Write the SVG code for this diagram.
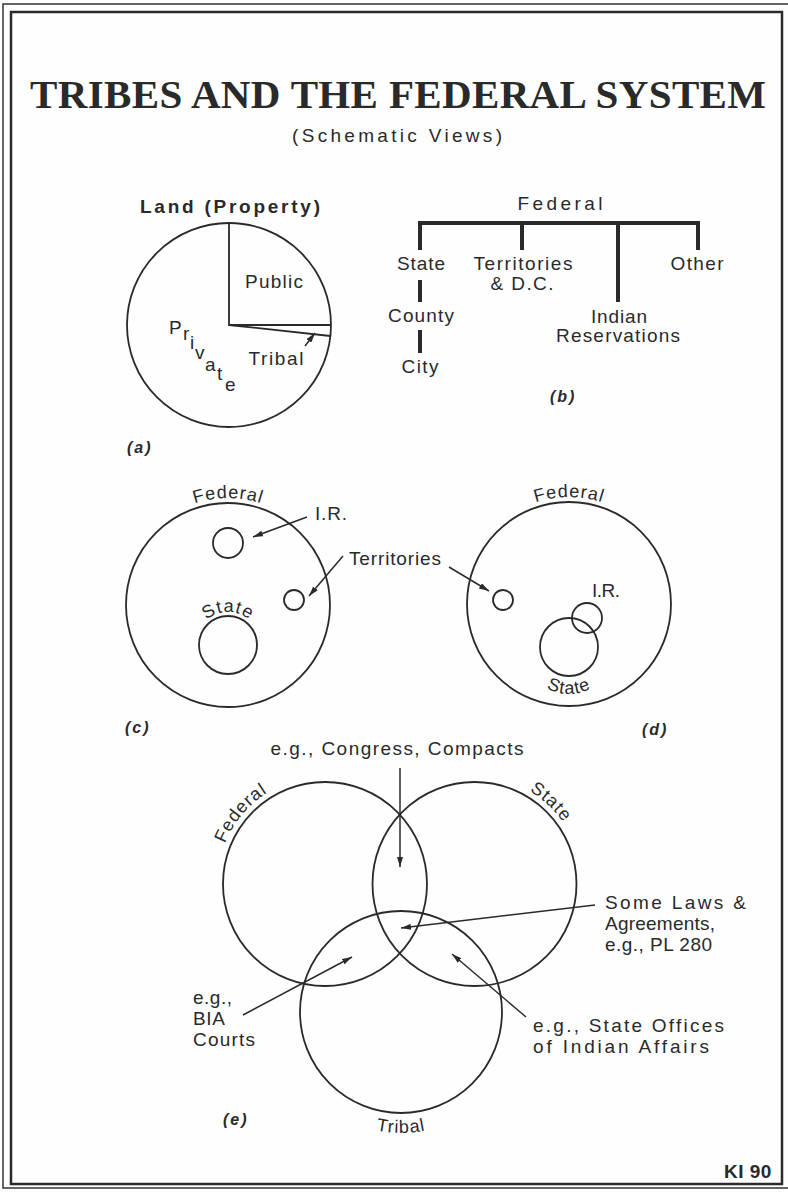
<svg xmlns="http://www.w3.org/2000/svg" width="788" height="1192" viewBox="0 0 788 1192">
<style>
.t{font-family:"Liberation Sans",Arial,sans-serif;fill:#2a2a2a;font-size:19px}
.ttl{font-family:"Liberation Serif","Times New Roman",serif;font-weight:bold;fill:#2a2a2a;font-size:41px}
.pl{font-family:"Liberation Sans",Arial,sans-serif;font-style:italic;font-weight:bold;fill:#2a2a2a;font-size:16px;letter-spacing:2px}
.cv{font-family:"Liberation Sans",Arial,sans-serif;fill:#2a2a2a;font-size:18px;letter-spacing:1px}
.ln{stroke:#2a2a2a;stroke-width:1.8;fill:none}
.bar{stroke:#2a2a2a;stroke-width:4;fill:none}
.ar{stroke:#2a2a2a;stroke-width:1.5;fill:none;marker-end:url(#ah)}
</style>
<defs>
<marker id="ah" markerUnits="userSpaceOnUse" markerWidth="10" markerHeight="6" refX="10" refY="3" orient="auto">
<path d="M0,0 L10,3 L0,6 z" fill="#2a2a2a"/>
</marker>
<path id="pcFed" d="M127.5,568.4 A107,107 0 0 1 328.5,568.4"/>
<path id="pcState" d="M195,645 A33,33 0 0 1 261,645"/>
<path id="pdFed" d="M468.5,567.4 A107,107 0 0 1 669.5,567.4"/>
<path id="pdState" d="M528.3,670.5 A47,47 0 0 0 609.7,670.5"/>
<path id="peFed" d="M223.5,920.9 A108,108 0 0 1 343.8,777.6"/>
<path id="peState" d="M442.9,780.7 A108,108 0 0 1 579.7,908.3"/>
<path id="peTrib" d="M296.2,1072.5 A121,121 0 0 0 505.8,1072.5"/>
</defs>
<rect width="788" height="1192" fill="#fefefe"/>
<g id="frame">
<rect x="3" y="4" width="790" height="1184" fill="none" stroke="#333" stroke-width="1.5"/>
<rect x="11" y="12" width="771" height="1172" fill="none" stroke="#2a2a2a" stroke-width="2.5"/>
</g>
<g id="title">
<text class="ttl" x="398" y="108" text-anchor="middle" textLength="736" lengthAdjust="spacing">TRIBES AND THE FEDERAL SYSTEM</text>
<text class="t" x="397" y="142" text-anchor="middle" font-size="21" textLength="210" lengthAdjust="spacing">(Schematic Views)</text>
</g>
<g id="panel-a">
<text class="t" x="230" y="213" text-anchor="middle" font-size="18" font-weight="bold" textLength="180" lengthAdjust="spacing">Land (Property)</text>
<circle class="ln" cx="229" cy="325" r="102"/>
<path class="ln" d="M229,223 L229,325 L331,325 M229,325 L330.4,336"/>
<text class="t" x="274" y="288" text-anchor="middle" textLength="58" lengthAdjust="spacing">Public</text>
<text class="t" x="276" y="365" text-anchor="middle" textLength="55" lengthAdjust="spacing">Tribal</text>
<line class="ar" x1="305" y1="346" x2="315" y2="333"/>
<text class="t" font-size="20"><tspan x="169" y="334">P</tspan><tspan x="183" y="340">r</tspan><tspan x="190" y="349">i</tspan><tspan x="195" y="359">v</tspan><tspan x="205" y="371">a</tspan><tspan x="217" y="380">t</tspan><tspan x="225" y="391">e</tspan></text>
<text class="pl" x="127" y="453">(a)</text>
</g>
<g id="panel-b">
<text class="t" x="560" y="210" text-anchor="middle" textLength="85" lengthAdjust="spacing">Federal</text>
<path class="bar" d="M420,250 L420,223 L698,223 L698,250 M522,223 L522,250 M618,223 L618,302"/>
<path class="bar" stroke-width="3.5" d="M420,280 L420,302 M420,330 L420,353"/>
<text class="t" x="421" y="270" text-anchor="middle" textLength="48" lengthAdjust="spacing">State</text>
<text class="t" x="523" y="270" text-anchor="middle" textLength="99" lengthAdjust="spacing">Territories</text>
<text class="t" x="522" y="290" text-anchor="middle" textLength="63" lengthAdjust="spacing">&amp; D.C.</text>
<text class="t" x="697" y="270" text-anchor="middle" textLength="53" lengthAdjust="spacing">Other</text>
<text class="t" x="421" y="322" text-anchor="middle" textLength="66" lengthAdjust="spacing">County</text>
<text class="t" x="420" y="373" text-anchor="middle" textLength="37" lengthAdjust="spacing">City</text>
<text class="t" x="619" y="323" text-anchor="middle" textLength="56" lengthAdjust="spacing">Indian</text>
<text class="t" x="618" y="342" text-anchor="middle" textLength="124" lengthAdjust="spacing">Reservations</text>
<text class="pl" x="550" y="402">(b)</text>
</g>
<g id="panel-c">
<circle class="ln" cx="228" cy="605" r="102"/>
<text class="cv"><textPath href="#pcFed" startOffset="50%" text-anchor="middle">Federal</textPath></text>
<circle class="ln" cx="228" cy="543" r="15"/>
<circle class="ln" cx="294" cy="600" r="10"/>
<circle class="ln" cx="228" cy="645" r="29"/>
<text class="cv"><textPath href="#pcState" startOffset="50%" text-anchor="middle">State</textPath></text>
<text class="t" x="315" y="520" textLength="32" lengthAdjust="spacing">I.R.</text>
<line class="ar" x1="307" y1="517" x2="253" y2="537"/>
<line class="ar" x1="343" y1="556" x2="309" y2="596"/>
<text class="pl" x="125" y="733">(c)</text>
</g>
<g id="territories-label">
<text class="t" x="349" y="565" textLength="92" lengthAdjust="spacing">Territories</text>
</g>
<g id="panel-d">
<circle class="ln" cx="569" cy="604" r="102"/>
<text class="cv"><textPath href="#pdFed" startOffset="50%" text-anchor="middle">Federal</textPath></text>
<circle class="ln" cx="503" cy="600" r="10"/>
<circle class="ln" cx="587" cy="618" r="15"/>
<circle class="ln" cx="569" cy="647" r="29"/>
<text class="cv"><textPath href="#pdState" startOffset="50%" text-anchor="middle">State</textPath></text>
<text class="t" x="592" y="597" textLength="28" lengthAdjust="spacing">I.R.</text>
<line class="ar" x1="449" y1="567" x2="489" y2="591"/>
<text class="pl" x="642" y="735">(d)</text>
</g>
<g id="panel-e">
<circle class="ln" cx="325" cy="884" r="102"/>
<circle class="ln" cx="474.5" cy="884" r="102"/>
<circle class="ln" cx="401" cy="1012" r="101"/>
<text class="cv"><textPath href="#peFed" startOffset="50%" text-anchor="middle">Federal</textPath></text>
<text class="cv"><textPath href="#peState" startOffset="50%" text-anchor="middle">State</textPath></text>
<text class="cv"><textPath href="#peTrib" startOffset="50%" text-anchor="middle">Tribal</textPath></text>
<text class="t" x="397" y="755" text-anchor="middle" textLength="253" lengthAdjust="spacing">e.g., Congress, Compacts</text>
<text class="t" x="605" y="909" textLength="141" lengthAdjust="spacing">Some Laws &amp;</text>
<text class="t" x="605" y="930" textLength="110" lengthAdjust="spacing">Agreements,</text>
<text class="t" x="605" y="951" textLength="107" lengthAdjust="spacing">e.g., PL 280</text>
<text class="t" x="193" y="1004" textLength="39" lengthAdjust="spacing">e.g.,</text>
<text class="t" x="193" y="1025" textLength="32" lengthAdjust="spacing">BIA</text>
<text class="t" x="193" y="1046" textLength="62" lengthAdjust="spacing">Courts</text>
<text class="t" x="533" y="1032" textLength="191" lengthAdjust="spacing">e.g., State Offices</text>
<text class="t" x="533" y="1053" textLength="176" lengthAdjust="spacing">of Indian Affairs</text>
<text class="pl" x="223" y="1125">(e)</text>
</g>
<g id="connectors">
<line class="ar" x1="400" y1="768" x2="400" y2="867"/>
<line class="ar" x1="595" y1="905" x2="401" y2="928"/>
<line class="ar" x1="243" y1="1015" x2="352" y2="957"/>
<line class="ar" x1="526" y1="1017" x2="452" y2="954"/>
</g>
<g id="footer">
<text class="t" x="724" y="1178" font-weight="bold" font-size="13" letter-spacing="0.5">KI 90</text>
</g>
</svg>
